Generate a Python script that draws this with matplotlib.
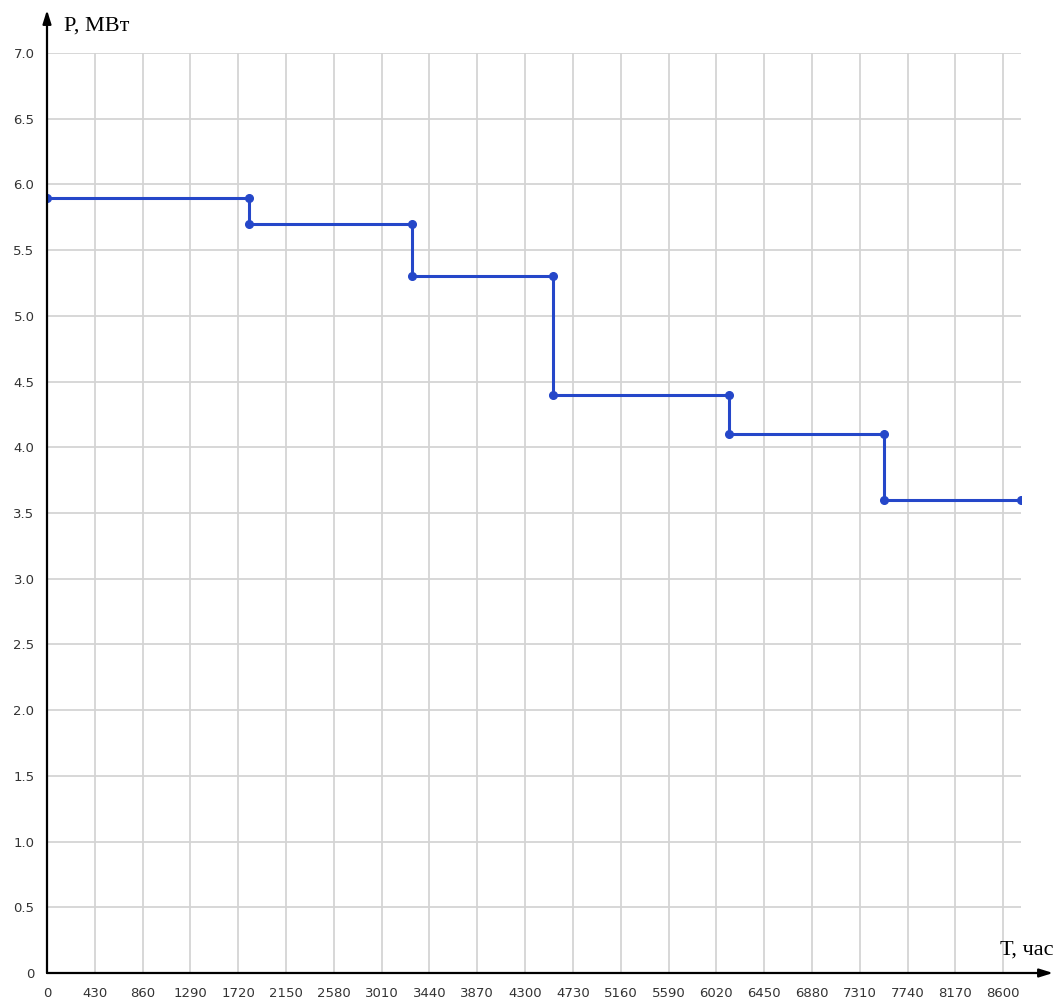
import matplotlib.pyplot as plt

# step boundaries (hours) and power levels (MW)
t_bounds = [0, 1820, 3280, 4550, 6130, 7530, 8760]
p_levels = [5.9, 5.7, 5.3, 4.4, 4.1, 3.6]

x_ticks = list(range(0, 8601, 430))
y_ticks = [0, 0.5, 1.0, 1.5, 2.0, 2.5, 3.0, 3.5, 4.0, 4.5, 5.0, 5.5, 6.0, 6.5, 7.0]

# corner points of the step curve
xs, ys = [], []
for i, p in enumerate(p_levels):
    xs += [t_bounds[i], t_bounds[i + 1]]
    ys += [p, p]

W, H = 1053, 1001
fig = plt.figure(figsize=(W / 100, H / 100), dpi=100)
ax = fig.add_axes([47 / W, (H - 973) / H, (1021 - 47) / W, (973 - 53) / H])

ax.set_xlim(0, 8760)
ax.set_ylim(0, 7)
ax.set_xticks(x_ticks)
ax.set_yticks(y_ticks)
ax.set_xticklabels([str(v) for v in x_ticks])
ax.set_yticklabels(["0"] + ["%.1f" % v for v in y_ticks[1:]])
ax.tick_params(length=0, labelsize=9.5, colors="#333333", pad=10)
ax.tick_params(axis="y", pad=9)
ax.grid(True, color="#d4d4d4", linewidth=1.3)
ax.set_axisbelow(True)
for s in ax.spines.values():
    s.set_visible(False)

ax.plot(xs, ys, color="#2547c9", linewidth=2.2, marker="o", markersize=5.5,
        solid_joinstyle="miter", zorder=3)

# axis arrows
ax.annotate("", xy=(0, 1 + 43 / 920), xytext=(0, 0), xycoords="axes fraction",
            arrowprops=dict(arrowstyle="-|>,head_length=0.8,head_width=0.25",
                            color="black", lw=1.6, shrinkA=0, shrinkB=0),
            annotation_clip=False)
ax.annotate("", xy=(1 + 32 / 974, 0), xytext=(0, 0), xycoords="axes fraction",
            arrowprops=dict(arrowstyle="-|>,head_length=0.8,head_width=0.25",
                            color="black", lw=1.6, shrinkA=0, shrinkB=0),
            annotation_clip=False)

fig.text(64 / W, 1 - 26 / H, "P, МВт", family="Liberation Serif", fontsize=16,
         va="center", ha="left")
fig.text(1000 / W, 1 - 950 / H, "Т, час", family="Liberation Serif", fontsize=16,
         va="center", ha="left")

fig.savefig("out.png", dpi=100)
